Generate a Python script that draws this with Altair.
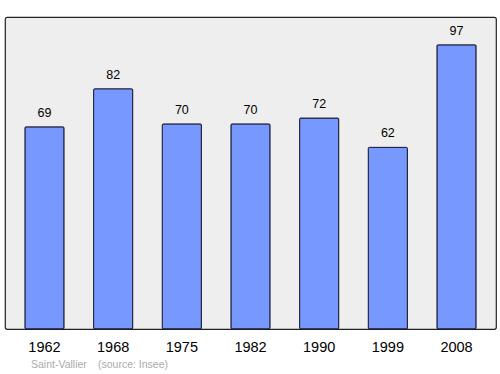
import altair as alt
import pandas as pd

years = ["1962", "1968", "1975", "1982", "1990", "1999", "2008"]
population = [69, 82, 70, 70, 72, 62, 97]
footer_texts = ["Saint-Vallier", "(source: Insee)"]
footer_x = [26, 93]

df = pd.DataFrame({"year": years, "pop": population})
foot = pd.DataFrame({"t": footer_texts, "px": footer_x})

FONT = "Liberation Sans"

x = alt.X("year:N", sort=years, title=None,
          scale=alt.Scale(paddingInner=0.43, paddingOuter=0.29),
          axis=alt.Axis(labelAngle=0, ticks=False, domain=False, labelFontSize=14.5,
                        labelPadding=11, labelColor="#000000", labelFont=FONT))
y = alt.Y("pop:Q", title=None, scale=alt.Scale(domain=[0, 106.5], nice=False),
          axis=None)

bars = alt.Chart(df).mark_bar(color="#7799ff", stroke="#1a1a33", strokeWidth=1,
                              cornerRadius=1).encode(x=x, y=y)
labels = alt.Chart(df).mark_text(baseline="bottom", dy=-7, fontSize=12.5, font=FONT,
                                 color="#000000").encode(x=x, y=y, text="pop:Q")
footer = alt.Chart(foot).mark_text(align="left", baseline="middle", fontSize=10.5,
                                   font=FONT, color="#aaaaaa").encode(
    x=alt.X("px:Q", scale=None), y=alt.value(348), text="t:N")

chart = alt.layer(bars, labels, footer).properties(
    width=491, height=312,
    autosize=alt.AutoSizeParams(type="none"),
    padding={"left": 5, "top": 17, "right": 4, "bottom": 45},
    background="#ffffff",
).configure_view(fill="#eeeeee", stroke="#222222", strokeWidth=1.2, cornerRadius=2)

chart.save("out.html", embed_options={"renderer": "svg", "actions": False})
